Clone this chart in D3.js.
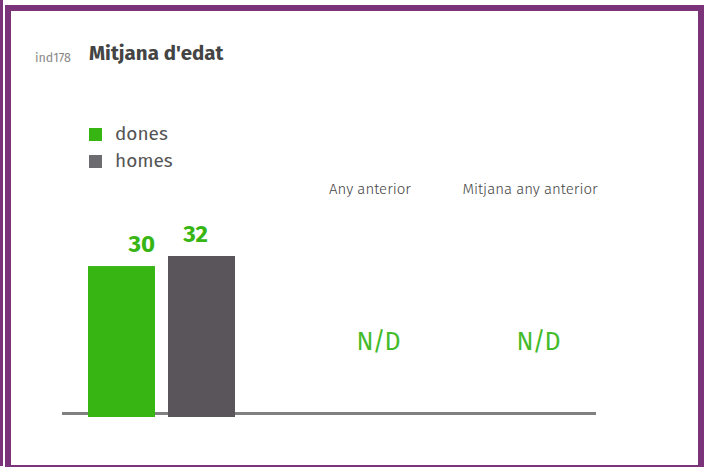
<!DOCTYPE html>
<html>
<head>
<meta charset="utf-8">
<script src="https://cdn.jsdelivr.net/npm/d3@7"></script>
<style>
  body { margin: 0; background: #fff; }
  text { font-family: "Fira Sans", Lato, "Open Sans", sans-serif; }
</style>
</head>
<body>
<div id="chart"></div>
<script>
// Data
const categories = ["dones", "homes"];
const values = [30, 32];
const colors = ["#37b513", "#5a555a"];
const compareLabels = ["Any anterior", "Mitjana any anterior"];
const compareValues = ["N/D", "N/D"];

const W = 707, H = 468;

const svg = d3.select("#chart").append("svg")
    .attr("width", W)
    .attr("height", H);

// Frame
const purple = "#7b3379";
svg.append("rect").attr("x", 0).attr("y", 0).attr("width", 3).attr("height", 466).attr("fill", purple);
svg.append("rect").attr("x", 5).attr("y", 5).attr("width", 699).attr("height", 6).attr("fill", purple);
svg.append("rect").attr("x", 5).attr("y", 5).attr("width", 6).attr("height", 462).attr("fill", purple);
svg.append("rect").attr("x", 698).attr("y", 5).attr("width", 6).attr("height", 462).attr("fill", purple);
svg.append("rect").attr("x", 5).attr("y", 465).attr("width", 699).attr("height", 2).attr("fill", purple);

// Title
svg.append("text")
    .attr("x", 35).attr("y", 62)
    .attr("font-size", 12.5)
    .attr("fill", "#888")
    .text("ind178");

svg.append("text")
    .attr("x", 89).attr("y", 60)
    .attr("font-size", 20.5)
    .attr("font-weight", "bold")
    .attr("fill", "#444")
    .text("Mitjana d'edat");

// Legend
const legend = svg.append("g").attr("transform", "translate(89,128)");
categories.forEach((c, i) => {
    const g = legend.append("g").attr("transform", `translate(0,${i * 27})`);
    g.append("rect").attr("width", 13).attr("height", 13).attr("fill", i === 0 ? colors[0] : "#6c6b70");
    g.append("text")
        .attr("x", 26).attr("y", 12)
        .attr("font-size", 19)
        .attr("fill", "#555")
        .text(c);
});

// Scales
const x = d3.scaleBand()
    .domain(categories)
    .range([88, 235])
    .paddingInner(0.1625)
    .paddingOuter(0);

const y = d3.scaleLinear()
    .domain([0, 32])
    .range([417, 256]);

// Baseline
svg.append("line")
    .attr("x1", 62).attr("x2", 596)
    .attr("y1", 413.5).attr("y2", 413.5)
    .attr("stroke", "#808080")
    .attr("stroke-width", 3);

// Bars
svg.selectAll(".bar")
    .data(values)
    .enter()
    .append("rect")
    .attr("class", "bar")
    .attr("x", (d, i) => x(categories[i]))
    .attr("y", d => y(d))
    .attr("width", x.bandwidth())
    .attr("height", d => y(0) - y(d))
    .attr("fill", (d, i) => colors[i]);

// Value labels
svg.selectAll(".val")
    .data(values)
    .enter()
    .append("text")
    .attr("class", "val")
    .attr("x", (d, i) => i === 0 ? x(categories[i]) + x.bandwidth() : x(categories[i]) + x.bandwidth() / 2 - 6)
    .attr("y", d => y(d) - 14)
    .attr("text-anchor", (d, i) => i === 0 ? "end" : "middle")
    .attr("font-size", 24)
    .attr("font-weight", "bold")
    .attr("fill", "#37b513")
    .text(d => d);

// Comparison columns
const cx = d3.scalePoint()
    .domain(compareLabels)
    .range([378, 538]);

compareLabels.forEach((lab, i) => {
    svg.append("text")
        .attr("x", cx(lab) - 8).attr("y", 194)
        .attr("text-anchor", "middle")
        .attr("font-size", 15)
        .attr("font-weight", 300)
        .attr("fill", "#444")
        .text(lab);
    svg.append("text")
        .attr("x", cx(lab)).attr("y", 350)
        .attr("text-anchor", "middle")
        .attr("font-size", 25)
        .attr("letter-spacing", -1)
        .attr("fill", "#44bb2a")
        .text(compareValues[i]);
});
</script>
</body>
</html>
